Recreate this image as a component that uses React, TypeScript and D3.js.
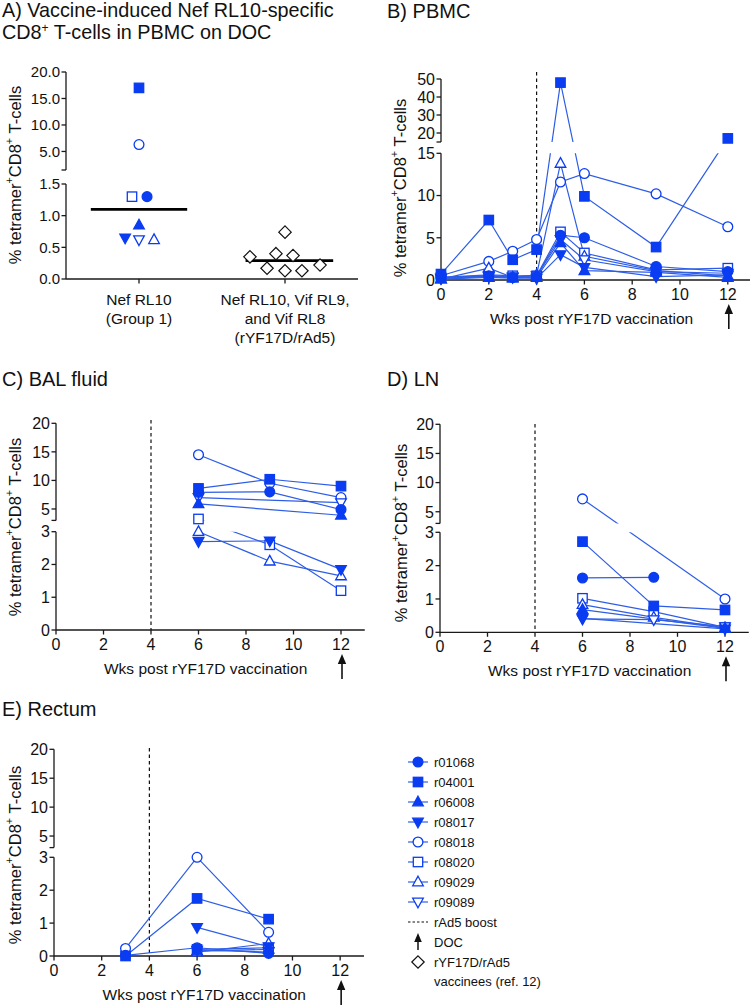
import React from "react";
import * as d3 from "d3";

// ---------------- DATA ----------------
const subjects = ["r01068", "r04001", "r06008", "r08017", "r08018", "r08020", "r09029", "r09089"];
const subjectShapes = ["circle", "square", "triangleUp", "triangleDown", "circle", "square", "triangleUp", "triangleDown"];
const subjectFilled = [true, true, true, true, false, false, false, false];

// Panel A
const docGroupLabels = [["Nef RL10", "(Group 1)"], ["Nef RL10, Vif RL9,", "and Vif RL8", "(rYF17D/rAd5)"]];
const docGroup1Values = [1.3, 17, 0.85, 0.65, 6.3, 1.3, 0.62, 0.62];
const docGroup1Jitter = [0.055, 0, 0, -0.095, 0, -0.048, 0.103, 0];
const docGroup2Values = [0.35, 0.4, 0.74, 0.37, 0.17, 0.13, 0.13, 0.22];
const docGroup2Jitter = [-0.24, -0.062, 0, 0.055, -0.123, 0, 0.116, 0.24];
const docMedians = [1.1, 0.29];
const docTicksLow = [0, 0.5, 1.0, 1.5];
const docTicksHigh = [5, 10, 15, 20];

// Panel B: PBMC
const pbmcWeeks = [0, 2, 3, 4, 5, 6, 9, 12];
const pbmcValues: (number | null)[][] = [
  [0.3, 0.5, 0.3, 0.4, 5.3, 5.0, 1.6, 1.0],
  [0.7, 7.1, 2.4, 3.6, 48, 9.9, 3.9, 17],
  [0.1, 0.3, 0.2, 0.3, 4.4, 1.1, 0.9, 0.3],
  [0.2, 0.4, 0.3, 0.2, 3.0, 1.5, 0.4, 0.6],
  [0.5, 2.2, 3.4, 4.8, 11.6, 12.6, 10.2, 6.3],
  [0.3, 0.6, 0.5, 0.5, 5.7, 3.2, 1.2, 1.4],
  [0.1, 1.4, 0.3, 0.6, 13.8, 2.8, 1.1, 0.5],
  [0.2, 0.5, 0.4, 0.5, 4.8, 2.4, 1.0, 0.8],
];
const pbmcTicksLow = [0, 5, 10, 15];
const pbmcTicksHigh = [20, 30, 40, 50];

// Panel C: BAL fluid
const balWeeks = [6, 9, 12];
const balValues: (number | null)[][] = [
  [7.9, 8.0, 4.9],
  [8.6, 10.2, 9.0],
  [5.9, null, 3.9],
  [2.7, 2.72, 1.85],
  [14.5, 9.5, 7.0],
  [3.25, 2.6, 1.2],
  [3.0, 2.1, 1.65],
  [7.0, null, 6.1],
];

// Panel D: LN
const lnWeeks = [6, 9, 12];
const lnValues: (number | null)[][] = [
  [1.63, 1.65, null],
  [2.72, 0.79, 0.67],
  [0.68, null, 0.12],
  [0.42, null, 0.1],
  [7.2, null, 1.0],
  [1.02, 0.62, 0.15],
  [0.83, 0.45, 0.13],
  [0.4, 0.38, 0.17],
];

// Panel E: Rectum
const rectumWeeks = [3, 6, 9];
const rectumValues: (number | null)[][] = [
  [0.02, 0.25, 0.08],
  [0.0, 1.75, 1.12],
  [null, 0.15, 0.2],
  [null, 0.87, 0.28],
  [0.23, 3.0, 0.72],
  [null, 0.2, 0.25],
  [null, 0.12, 0.38],
  [null, 0.18, 0.12],
];

const tissueTicksLow = [0, 1, 2, 3];
const tissueTicksHigh = [5, 10, 15, 20];
const weekTicks = [0, 2, 4, 6, 8, 10, 12];
const boostWeek = 4;
const docWeek = 12;

const legendExtra = ["rAd5 boost", "DOC"];
const legendDiamond = ["rYF17D/rAd5", "vaccinees (ref. 12)"];

// ---------------- STYLE ----------------
const FONT = "'Liberation Sans', Arial, Helvetica, sans-serif";
const BLUE = "#0a3cf2";
const LINE_BLUE = "#2f5ee6";
const AXIS = "#1a1a1a";

function Marker({ shape, filled, x, y }: { shape: string; filled: boolean; x: number; y: number }) {
  const fill = filled ? BLUE : "#ffffff";
  const common = { fill, stroke: BLUE, strokeWidth: 1.3 };
  if (shape === "circle") return <circle cx={x} cy={y} r={4.9} {...common} />;
  if (shape === "square") return <rect x={x - 4.7} y={y - 4.7} width={9.4} height={9.4} {...common} />;
  if (shape === "triangleUp")
    return <path d={`M${x},${y - 5.8}L${x + 5.3},${y + 3.8}L${x - 5.3},${y + 3.8}Z`} {...common} />;
  if (shape === "triangleDown")
    return <path d={`M${x},${y + 5.8}L${x + 5.3},${y - 3.8}L${x - 5.3},${y - 3.8}Z`} {...common} />;
  return null;
}

function Diamond({ x, y }: { x: number; y: number }) {
  const r = 6.2;
  return (
    <path d={`M${x},${y - r}L${x + r},${y}L${x},${y + r}L${x - r},${y}Z`} fill="#fff" stroke="#111" strokeWidth={1.2} />
  );
}

function YTitle({ x, y }: { x: number; y: number }) {
  return (
    <text transform={`translate(${x},${y}) rotate(-90)`} textAnchor="middle" dominantBaseline="central" fontSize={16.5} fill="#111">
      % tetramer<tspan dy={-6} fontSize={11}>+</tspan>
      <tspan dy={6}>CD8</tspan>
      <tspan dy={-6} fontSize={11}>+</tspan>
      <tspan dy={6}> T-cells</tspan>
    </text>
  );
}

function BrokenYAxis({
  axisX, yLow, yHigh, ticksLow, ticksHigh, fmt, fontSize,
}: {
  axisX: number;
  yLow: d3.ScaleLinear<number, number>;
  yHigh: d3.ScaleLinear<number, number>;
  ticksLow: number[];
  ticksHigh: number[];
  fmt: (v: number) => string;
  fontSize: number;
}) {
  const lowD = yLow.domain();
  const highD = yHigh.domain();
  const tl = 4.5;
  return (
    <g>
      <line x1={axisX} x2={axisX} y1={yLow(lowD[0])} y2={yLow(lowD[1])} stroke={AXIS} strokeWidth={1.3} />
      <line x1={axisX} x2={axisX} y1={yHigh(highD[0])} y2={yHigh(highD[1])} stroke={AXIS} strokeWidth={1.3} />
      <line x1={axisX - tl} x2={axisX} y1={yHigh(highD[0])} y2={yHigh(highD[0])} stroke={AXIS} strokeWidth={1.3} />
      {ticksLow.map((t) => (
        <g key={"l" + t}>
          <line x1={axisX - tl} x2={axisX} y1={yLow(t)} y2={yLow(t)} stroke={AXIS} strokeWidth={1.3} />
          <text x={axisX - tl - 1.5} y={yLow(t)} dy="0.36em" textAnchor="end" fontSize={fontSize} fill="#111">
            {fmt(t)}
          </text>
        </g>
      ))}
      {ticksHigh.map((t) => (
        <g key={"h" + t}>
          <line x1={axisX - tl} x2={axisX} y1={yHigh(t)} y2={yHigh(t)} stroke={AXIS} strokeWidth={1.3} />
          <text x={axisX - tl - 1.5} y={yHigh(t)} dy="0.36em" textAnchor="end" fontSize={fontSize} fill="#111">
            {fmt(t)}
          </text>
        </g>
      ))}
    </g>
  );
}

type PanelProps = {
  id: string;
  title: string;
  titleX: number;
  titleY: number;
  x: d3.ScaleLinear<number, number>;
  yLow: d3.ScaleLinear<number, number>;
  yHigh: d3.ScaleLinear<number, number>;
  ticksLow: number[];
  ticksHigh: number[];
  weeks: number[];
  values: (number | null)[][];
  dashTop: number;
  yTitleX: number;
  yTitleY: number;
};

function TimePanel(p: PanelProps) {
  const { x, yLow, yHigh } = p;
  const lowMax = yLow.domain()[1];
  const yv = (v: number) => (v <= lowMax ? yLow(v) : yHigh(v));
  const axisY = yLow(0);
  const axisX = x(0);
  const gapTop = yHigh(yHigh.domain()[0]);
  const gapBottom = yLow(lowMax);
  const line = d3
    .line<[number, number]>()
    .x((d) => x(d[0]))
    .y((d) => yv(d[1]));
  const series = p.values.map((row) =>
    p.weeks.map((w, i) => [w, row[i]] as [number, number | null]).filter((d) => d[1] !== null) as [number, number][]
  );
  const order = [4, 5, 6, 7, 0, 2, 3, 1];
  const ax = x(docWeek) + 1;
  return (
    <g>
      <defs>
        <clipPath id={"gap" + p.id}>
          <rect x={0} y={0} width={760} height={gapTop} />
          <rect x={0} y={gapBottom} width={760} height={1100 - gapBottom} />
        </clipPath>
      </defs>
      <text x={p.titleX} y={p.titleY} fontSize={20} fill="#111">
        {p.title}
      </text>
      <YTitle x={p.yTitleX} y={p.yTitleY} />
      <line x1={x(boostWeek)} x2={x(boostWeek)} y1={p.dashTop} y2={axisY} stroke="#111" strokeWidth={1.2} strokeDasharray="3.5,3" />
      <BrokenYAxis
        axisX={axisX}
        yLow={yLow}
        yHigh={yHigh}
        ticksLow={p.ticksLow}
        ticksHigh={p.ticksHigh}
        fmt={(v) => d3.format("d")(v)}
        fontSize={16}
      />
      <line x1={axisX} x2={x(13)} y1={axisY} y2={axisY} stroke={AXIS} strokeWidth={1.3} />
      {weekTicks.map((t) => (
        <g key={t}>
          <line x1={x(t)} x2={x(t)} y1={axisY} y2={axisY + 4.5} stroke={AXIS} strokeWidth={1.3} />
          <text x={x(t)} y={axisY + 20} textAnchor="middle" fontSize={16} fill="#111">
            {t}
          </text>
        </g>
      ))}
      <text x={x(6.3)} y={axisY + 43.5} textAnchor="middle" fontSize={15.5} fill="#111">
        Wks post rYF17D vaccination
      </text>
      <line x1={ax} x2={ax} y1={axisY + 31} y2={axisY + 49} stroke="#111" strokeWidth={1.6} />
      <path d={`M${ax},${axisY + 24}L${ax + 4.2},${axisY + 34}L${ax - 4.2},${axisY + 34}Z`} fill="#111" />
      <g clipPath={`url(#gap${p.id})`}>
        {series.map((s, i) => (
          <path key={i} d={line(s) || ""} fill="none" stroke={LINE_BLUE} strokeWidth={1.2} />
        ))}
      </g>
      {order.map((si) =>
        series[si].map((d, j) => (
          <Marker key={si + "-" + j} shape={subjectShapes[si]} filled={subjectFilled[si]} x={x(d[0])} y={yv(d[1])} />
        ))
      )}
    </g>
  );
}

function PanelA() {
  const x = d3.scaleLinear().domain([0, 2]).range([66, 358]);
  const yLow = d3.scaleLinear().domain([0, 1.5]).range([279, 184]);
  const yHigh = d3.scaleLinear().domain([1.5, 20]).range([170, 72]);
  const yv = (v: number) => (v <= 1.5 ? yLow(v) : yHigh(v));
  const axisY = yLow(0);
  const centers = [0.5, 1.5];
  const order = [4, 5, 6, 7, 0, 2, 3, 1];
  return (
    <g>
      <text x={2} y={16.5} fontSize={19.8} fill="#111">
        A) Vaccine-induced Nef RL10-specific
      </text>
      <text x={2} y={39} fontSize={19.8} fill="#111">
        CD8<tspan dy={-7} fontSize={12}>+</tspan>
        <tspan dy={7}> T-cells in PBMC on DOC</tspan>
      </text>
      <YTitle x={15} y={175} />
      <BrokenYAxis
        axisX={66}
        yLow={yLow}
        yHigh={yHigh}
        ticksLow={docTicksLow}
        ticksHigh={docTicksHigh}
        fmt={(v) => d3.format(".1f")(v)}
        fontSize={15}
      />
      <line x1={66} x2={x(2)} y1={axisY} y2={axisY} stroke={AXIS} strokeWidth={1.3} />
      {centers.map((c, i) => (
        <g key={i}>
          <line x1={x(c)} x2={x(c)} y1={axisY} y2={axisY + 4.5} stroke={AXIS} strokeWidth={1.3} />
          {docGroupLabels[i].map((l, k) => (
            <text key={k} x={x(c)} y={305 + k * 19} textAnchor="middle" fontSize={15.5} fill="#111">
              {l}
            </text>
          ))}
        </g>
      ))}
      <line x1={x(0.5 - 0.33)} x2={x(0.5 + 0.33)} y1={yv(docMedians[0])} y2={yv(docMedians[0])} stroke="#000" strokeWidth={2.6} />
      <line x1={x(1.5 - 0.27)} x2={x(1.5 + 0.33)} y1={yv(docMedians[1])} y2={yv(docMedians[1])} stroke="#000" strokeWidth={2.6} />
      {order.map((si) => (
        <Marker
          key={si}
          shape={subjectShapes[si]}
          filled={subjectFilled[si]}
          x={x(0.5 + docGroup1Jitter[si])}
          y={yv(docGroup1Values[si])}
        />
      ))}
      {docGroup2Values.map((v, i) => (
        <Diamond key={i} x={x(1.5 + docGroup2Jitter[i])} y={yv(v)} />
      ))}
    </g>
  );
}

function Legend() {
  const sx = 418;
  const tx = 434;
  const y0 = 762;
  const dy = 20;
  return (
    <g fontSize={13} fill="#111">
      {subjects.map((s, i) => {
        const y = y0 + i * dy;
        return (
          <g key={s}>
            <line x1={sx - 10} x2={sx + 10} y1={y} y2={y} stroke={LINE_BLUE} strokeWidth={1.2} />
            <Marker shape={subjectShapes[i]} filled={subjectFilled[i]} x={sx} y={y} />
            <text x={tx} y={y} dy="0.36em">
              {s}
            </text>
          </g>
        );
      })}
      <line x1={sx - 10} x2={sx + 10} y1={y0 + 8 * dy} y2={y0 + 8 * dy} stroke="#111" strokeWidth={1.2} strokeDasharray="2.5,2" />
      <text x={tx} y={y0 + 8 * dy} dy="0.36em">
        {legendExtra[0]}
      </text>
      <line x1={sx} x2={sx} y1={y0 + 9 * dy - 3} y2={y0 + 9 * dy + 8} stroke="#111" strokeWidth={1.5} />
      <path d={`M${sx},${y0 + 9 * dy - 9}L${sx + 3.8},${y0 + 9 * dy}L${sx - 3.8},${y0 + 9 * dy}Z`} fill="#111" />
      <text x={tx} y={y0 + 9 * dy} dy="0.36em">
        {legendExtra[1]}
      </text>
      <Diamond x={sx} y={y0 + 10 * dy} />
      <text x={tx} y={y0 + 10 * dy} dy="0.36em">
        {legendDiamond[0]}
      </text>
      <text x={tx} y={y0 + 10 * dy + 19} dy="0.36em">
        {legendDiamond[1]}
      </text>
    </g>
  );
}

export default function App() {
  const xB = d3.scaleLinear().domain([0, 13]).range([441, 751.7]);
  const yBLow = d3.scaleLinear().domain([0, 15]).range([280, 153.3]);
  const yBHigh = d3.scaleLinear().domain([15, 50]).range([142, 79]);

  const xC = d3.scaleLinear().domain([0, 13]).range([56, 364.75]);
  const yCLow = d3.scaleLinear().domain([0, 3]).range([630, 531.7]);
  const yCHigh = d3.scaleLinear().domain([3, 20]).range([520.4, 423.3]);

  const xD = d3.scaleLinear().domain([0, 13]).range([440, 748.75]);
  const yDLow = d3.scaleLinear().domain([0, 3]).range([632.3, 532.3]);
  const yDHigh = d3.scaleLinear().domain([3, 20]).range([523.4, 424.3]);

  const xE = d3.scaleLinear().domain([0, 13]).range([54, 364]);
  const yELow = d3.scaleLinear().domain([0, 3]).range([956, 857.3]);
  const yEHigh = d3.scaleLinear().domain([3, 20]).range([847.6, 749.3]);

  return (
    <svg
      width={750}
      height={1007}
      viewBox="0 0 750 1007"
      style={{ position: "absolute", left: 0, top: 0, background: "#fff" }}
      fontFamily={FONT}
    >
      <rect x={0} y={0} width={750} height={1007} fill="#fff" />
      <PanelA />
      <TimePanel
        id="B" title="B) PBMC" titleX={387} titleY={18}
        x={xB} yLow={yBLow} yHigh={yBHigh} ticksLow={pbmcTicksLow} ticksHigh={pbmcTicksHigh}
        weeks={pbmcWeeks} values={pbmcValues} dashTop={72} yTitleX={400} yTitleY={188}
      />
      <TimePanel
        id="C" title="C) BAL fluid" titleX={2} titleY={386}
        x={xC} yLow={yCLow} yHigh={yCHigh} ticksLow={tissueTicksLow} ticksHigh={tissueTicksHigh}
        weeks={balWeeks} values={balValues} dashTop={420} yTitleX={15} yTitleY={527}
      />
      <TimePanel
        id="D" title="D) LN" titleX={387} titleY={386}
        x={xD} yLow={yDLow} yHigh={yDHigh} ticksLow={tissueTicksLow} ticksHigh={tissueTicksHigh}
        weeks={lnWeeks} values={lnValues} dashTop={424} yTitleX={401} yTitleY={533}
      />
      <TimePanel
        id="E" title="E) Rectum" titleX={2} titleY={716}
        x={xE} yLow={yELow} yHigh={yEHigh} ticksLow={tissueTicksLow} ticksHigh={tissueTicksHigh}
        weeks={rectumWeeks} values={rectumValues} dashTop={748} yTitleX={15} yTitleY={855}
      />
      <Legend />
    </svg>
  );
}
